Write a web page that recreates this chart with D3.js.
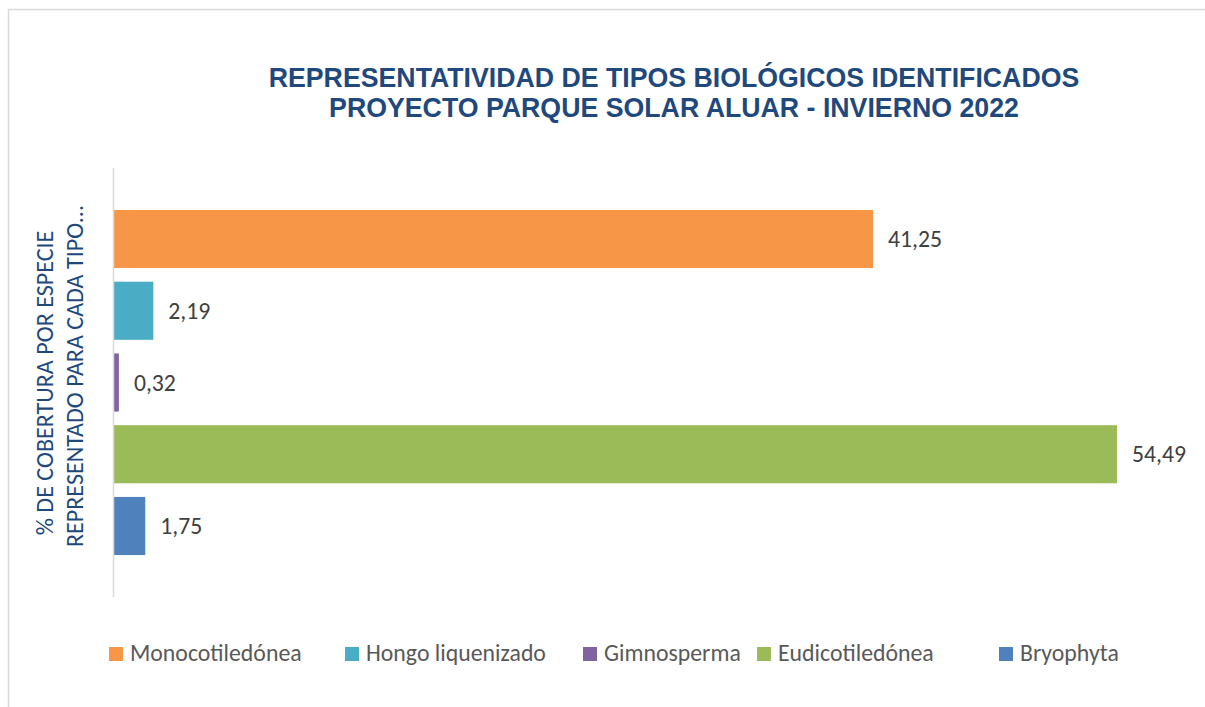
<!DOCTYPE html>
<html><head><meta charset="utf-8">
<script src="https://cdn.jsdelivr.net/npm/d3@7"></script>
<style>body{margin:0;background:#fff}svg{display:block}</style>
</head><body>
<script>
const categories = ["Monocotiledónea","Hongo liquenizado","Gimnosperma","Eudicotiledónea","Bryophyta"];
const values = [41.25, 2.19, 0.32, 54.49, 1.75];
const valueLabels = ["41,25","2,19","0,32","54,49","1,75"];
const colors = ["#F79646","#4BACC6","#8064A2","#9BBB59","#4F81BD"];
const titleLines = ["REPRESENTATIVIDAD DE TIPOS BIOLÓGICOS IDENTIFICADOS","PROYECTO PARQUE SOLAR ALUAR - INVIERNO 2022"];
const yTitleLines = ["% DE COBERTURA POR ESPECIE","REPRESENTADO PARA CADA TIPO..."];

const W=1205,H=707;
const svg=d3.select("body").append("svg").attr("width",W).attr("height",H);
const bodyFont="Carlito, Calibri, 'Open Sans', sans-serif";

svg.append("path").attr("d",`M8.5,${H} V9.5 H${W}`).attr("fill","none").attr("stroke","#d9d9d9").attr("stroke-width",1.5);

const x=d3.scaleLinear().domain([0,60]).range([113,113+60*18.425]);
const y=d3.scaleBand().domain(categories).range([168,597]).paddingInner(0.19).paddingOuter(0.585);

function fitSize(sel,target){
  const w=sel.node().getComputedTextLength();
  const fs=parseFloat(sel.attr("font-size"));
  return fs*target/w;
}

// title
const tw=[811,690];
titleLines.forEach((t,i)=>{
  const s=svg.append("text").attr("x",674).attr("y",[87,117][i]).attr("text-anchor","middle")
    .attr("font-family","'Liberation Sans', Arial, sans-serif").attr("font-weight","bold")
    .attr("font-size",25).attr("fill","#1F497D").text(t);
  s.attr("font-size",fitSize(s,tw[i]));
});

// y axis title
const yw=[303,342];
const yts=yTitleLines.map((t,i)=>svg.append("text").attr("transform",`translate(${[53,83][i]},${[383,376][i]}) rotate(-90)`)
    .attr("text-anchor","middle").attr("font-family",bodyFont).attr("font-size",20).attr("fill","#1F497D").text(t));
const yfs=fitSize(yts[1],yw[1]);
yts.forEach(s=>s.attr("font-size",yfs));

// bars
svg.selectAll("rect.bar").data(categories).join("rect").attr("class","bar")
  .attr("x",x(0)).attr("y",d=>y(d)).attr("height",y.bandwidth())
  .attr("width",(d,i)=>x(values[i])-x(0)).attr("fill",(d,i)=>colors[i]);

// axis line
const ax=svg.append("g").attr("transform",`translate(${x(0)},0)`)
  .call(d3.axisLeft(d3.scaleLinear().range([168,597])).ticks(0).tickSize(0).tickFormat(""));
ax.select(".domain").attr("stroke","#d9d9d9").attr("stroke-width",1.5).attr("d","M0.5,168V597");

// value labels
const vals=svg.selectAll("text.val").data(categories).join("text").attr("class","val")
  .attr("x",(d,i)=>x(values[i])+15).attr("y",d=>y(d)+y.bandwidth()/2+8)
  .attr("font-family",bodyFont).attr("font-size",20).attr("fill","#404040")
  .text((d,i)=>valueLabels[i]);
const vfs=fitSize(d3.select(vals.nodes()[0]),54);
vals.attr("font-size",vfs);

// legend
const legX=[109,345,583,757,999];
const legTexts=categories.map((c,i)=>{
  svg.append("rect").attr("x",legX[i]).attr("y",647).attr("width",14).attr("height",14).attr("fill",colors[i]);
  return svg.append("text").attr("x",legX[i]+21).attr("y",661).attr("font-family",bodyFont)
    .attr("font-size",20).attr("fill","#595959").text(c);
});
const lfs=fitSize(legTexts[1],180);
legTexts.forEach(s=>s.attr("font-size",lfs));
</script>
</body></html>
